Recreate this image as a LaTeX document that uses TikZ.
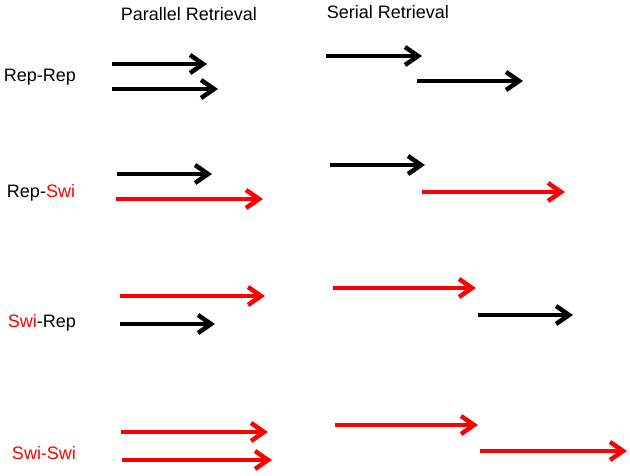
\documentclass[tikz,border=0pt]{standalone}
\usepackage{fontspec}
\setmainfont{Liberation Sans}
\usetikzlibrary{arrows.meta}
\tikzset{
  arr/.style={line width=4.5pt, -{Straight Barb[length=13pt,width=18pt]}},
  lab/.style={font=\fontsize{18}{20}\selectfont, inner sep=0pt}
}
\begin{document}
\begin{tikzpicture}[x=1pt,y=-1pt]
\useasboundingbox (0,0) rectangle (630,475);
\node [lab] (hpar) at (189,14) {Parallel Retrieval};
\node [lab] (hser) at (388,12) {Serial Retrieval};
\node [lab] (rr) at (40,77) {Rep-Rep};
\node [lab] (rs) at (41,193) {Rep-{\color{red}Swi}};
\node [lab] (sr) at (42,323) {{\color{red}Swi}-Rep};
\node [lab, red] (ss) at (44,453) {Swi-Swi};
% Rep-Rep
\coordinate (rrpa) at (112,64);  \coordinate (rrpb) at (207,64);
\coordinate (rrpc) at (112,89);  \coordinate (rrpd) at (218,89);
\coordinate (rrsa) at (326,56);  \coordinate (rrsb) at (422,56);
\coordinate (rrsc) at (417,81);  \coordinate (rrsd) at (523,81);
\draw [arr] (rrpa) -- (rrpb);
\draw [arr] (rrpc) -- (rrpd);
\draw [arr] (rrsa) -- (rrsb);
\draw [arr] (rrsc) -- (rrsd);
% Rep-Swi
\coordinate (rspa) at (117,174); \coordinate (rspb) at (212,174);
\coordinate (rspc) at (116,199); \coordinate (rspd) at (263,199);
\coordinate (rssa) at (330,165); \coordinate (rssb) at (425,165);
\coordinate (rssc) at (422,192); \coordinate (rssd) at (565,192);
\draw [arr] (rspa) -- (rspb);
\draw [arr, red] (rspc) -- (rspd);
\draw [arr] (rssa) -- (rssb);
\draw [arr, red] (rssc) -- (rssd);
% Swi-Rep
\coordinate (srpa) at (120,296); \coordinate (srpb) at (265,296);
\coordinate (srpc) at (120,324); \coordinate (srpd) at (215,324);
\coordinate (srsa) at (333,288); \coordinate (srsb) at (476,288);
\coordinate (srsc) at (478,315); \coordinate (srsd) at (573,315);
\draw [arr, red] (srpa) -- (srpb);
\draw [arr] (srpc) -- (srpd);
\draw [arr, red] (srsa) -- (srsb);
\draw [arr] (srsc) -- (srsd);
% Swi-Swi
\coordinate (sspa) at (121,432); \coordinate (sspb) at (268,432);
\coordinate (sspc) at (122,460); \coordinate (sspd) at (272,460);
\coordinate (sssa) at (335,425); \coordinate (sssb) at (478,425);
\coordinate (sssc) at (480,451); \coordinate (sssd) at (627,451);
\draw [arr, red] (sspa) -- (sspb);
\draw [arr, red] (sspc) -- (sspd);
\draw [arr, red] (sssa) -- (sssb);
\draw [arr, red] (sssc) -- (sssd);
\end{tikzpicture}
\end{document}
